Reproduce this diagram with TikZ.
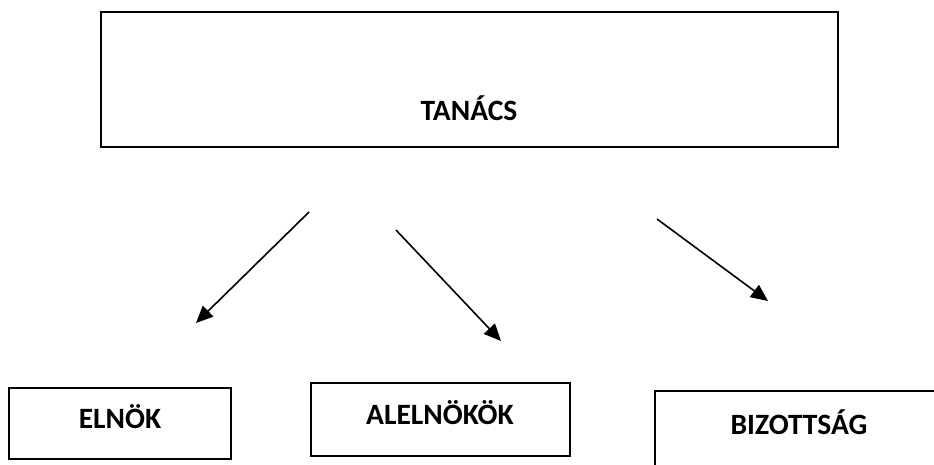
\documentclass[tikz,border=0pt]{standalone}
\usepackage{fontspec}
\setmainfont{Carlito}
\usetikzlibrary{arrows.meta}

\begin{document}
\begin{tikzpicture}[x=1pt,y=-1pt,-{Triangle[length=17pt,width=15pt]},
                    line width=1.6pt,
                    box node/.style={draw,rectangle,line width=1.9pt,inner sep=0pt},
                    text node/.style={font=\fontsize{29.5}{34}\selectfont\bfseries}]
  \useasboundingbox (0,0) rectangle (934,464);

  % boxes
  \node[box node,minimum width=737pt,minimum height=135pt] (tanacs) at (469.5,79.5) {};
  \node[box node,minimum width=222pt,minimum height=71pt] (elnok) at (120,423.5) {};
  \node[box node,minimum width=259pt,minimum height=73pt] (alelnokok) at (440.5,419.5) {};
  \node[box node,minimum width=305pt,minimum height=99pt] (bizottsag) at (807.5,440.5) {};

  % texts
  \node[text node] (tanacs text) at (469,108) {TANÁCS};
  \node[text node] (elnok text) at (120,417) {ELNÖK};
  \node[text node] (alelnokok text) at (440,413) {ALELNÖKÖK};
  \node[text node] (bizottsag text) at (799,422) {BIZOTTSÁG};

  % arrows
  \coordinate (from1) at (309,212);
  \coordinate (to1) at (196,323);
  \coordinate (from2) at (396,230);
  \coordinate (to2) at (501,341);
  \coordinate (from3) at (657,219);
  \coordinate (to3) at (768,301);

  \draw (from1) -- (to1);
  \draw (from2) -- (to2);
  \draw (from3) -- (to3);
\end{tikzpicture}
\end{document}
